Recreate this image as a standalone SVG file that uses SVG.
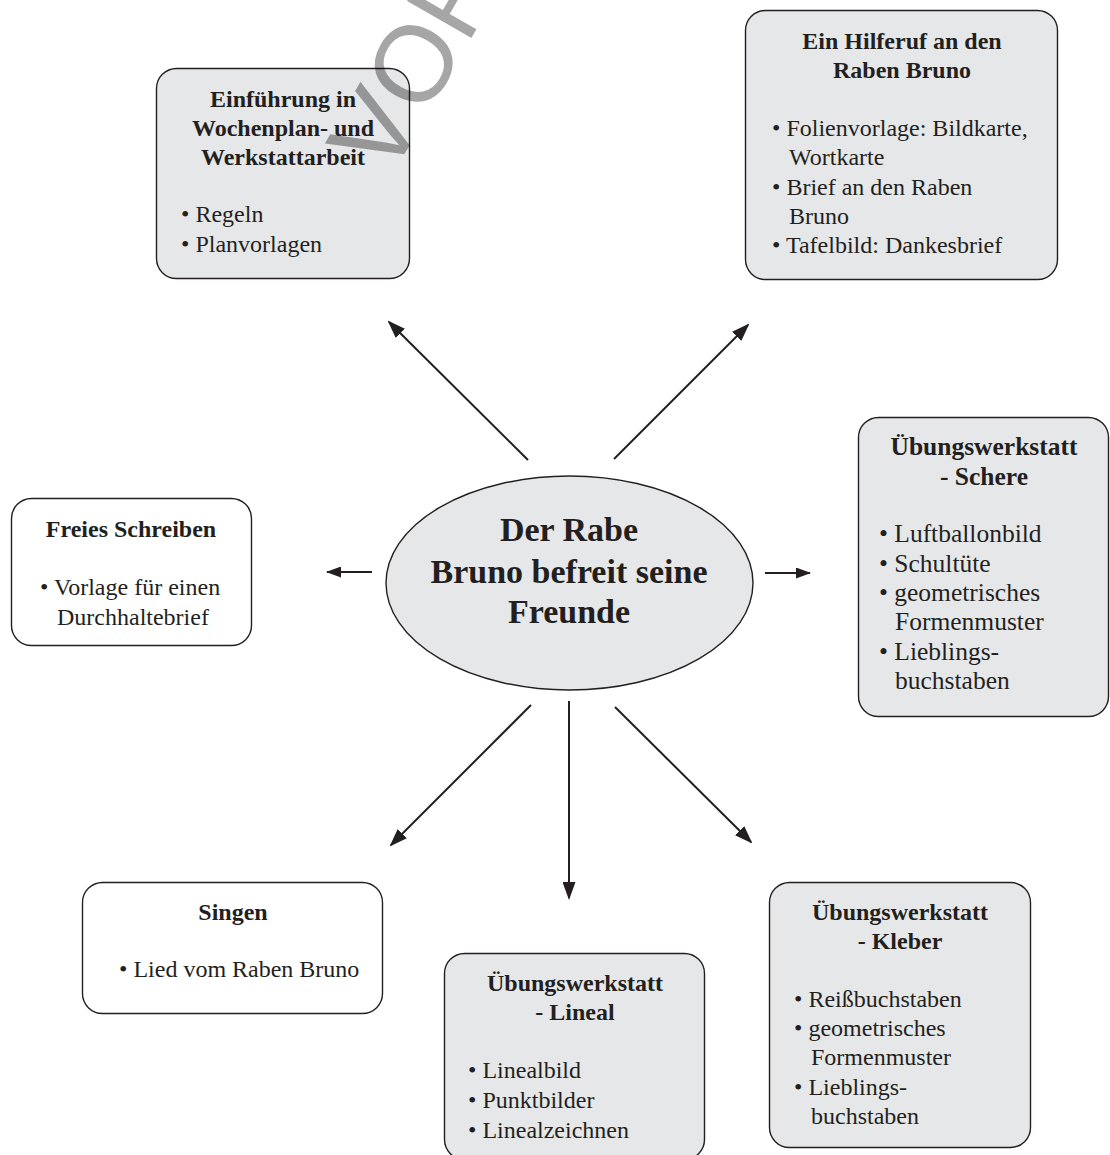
<svg xmlns="http://www.w3.org/2000/svg" width="1110" height="1155" viewBox="0 0 1110 1155">
<defs>
<style>
.box{stroke:#231f20;stroke-width:1.4}
.g{fill:#e6e7e8}
.w{fill:#ffffff}
.t{font-family:"Liberation Serif","Times New Roman",serif;font-weight:bold;font-size:24px;fill:#231f20;text-anchor:middle}
.b{font-family:"Liberation Serif","Times New Roman",serif;font-size:24px;fill:#231f20}
.s{font-size:25.5px}
.big{font-family:"Liberation Serif","Times New Roman",serif;font-weight:bold;font-size:34px;fill:#231f20;text-anchor:middle}
.c{stroke:#231f20;stroke-width:2;fill:none;marker-end:url(#ah)}
.cs{stroke:#231f20;stroke-width:2;fill:none;marker-end:url(#ahs)}
.wm{font-family:"Liberation Sans",Arial,sans-serif;font-size:108px;fill:#000000;fill-opacity:0.35}
</style>
<marker id="ah" viewBox="0 0 18 13" refX="16" refY="6.5" markerWidth="18" markerHeight="13" markerUnits="userSpaceOnUse" orient="auto"><path d="M0,0 L18,6.5 L0,13 z" fill="#231f20"/></marker>
<marker id="ahs" viewBox="0 0 15 11" refX="14" refY="5.5" markerWidth="15" markerHeight="11" markerUnits="userSpaceOnUse" orient="auto"><path d="M0,0 L15,5.5 L0,11 z" fill="#231f20"/></marker>
</defs>
<rect width="1110" height="1155" fill="#ffffff"/>

<g id="connectors">
<line class="c" x1="528" y1="460" x2="389" y2="322"/>
<line class="c" x1="614" y1="459" x2="748" y2="325"/>
<line class="cs" x1="372" y1="572" x2="327" y2="572"/>
<line class="cs" x1="765" y1="573" x2="810" y2="573"/>
<line class="c" x1="531" y1="705" x2="391" y2="845"/>
<line class="c" x1="569" y1="701" x2="569" y2="898"/>
<line class="c" x1="615" y1="707" x2="751" y2="842"/>
</g>

<g id="center">
<ellipse class="box g" cx="569.5" cy="583" rx="183.5" ry="107"/>
<text class="big" x="569" y="541">Der Rabe</text>
<text class="big" x="569" y="583">Bruno befreit seine</text>
<text class="big" x="569" y="623">Freunde</text>
</g>

<g id="einfuehrung">
<rect class="box g" x="156.5" y="68.5" width="253" height="210" rx="20"/>
<text class="t" x="283" y="107">Einführung in</text>
<text class="t" x="283" y="136">Wochenplan- und</text>
<text class="t" x="283" y="165">Werkstattarbeit</text>
<text class="b" x="181" y="222">• Regeln</text>
<text class="b" x="181" y="252">• Planvorlagen</text>
</g>

<g id="hilferuf">
<rect class="box g" x="745.5" y="10.5" width="312" height="269" rx="20"/>
<text class="t" x="902" y="49">Ein Hilferuf an den</text>
<text class="t" x="902" y="78">Raben Bruno</text>
<text class="b" x="772" y="136">• Folienvorlage: Bildkarte,</text>
<text class="b" x="789" y="165">Wortkarte</text>
<text class="b" x="772" y="195">• Brief an den Raben</text>
<text class="b" x="789" y="224">Bruno</text>
<text class="b" x="772" y="253">• Tafelbild: Dankesbrief</text>
</g>

<g id="freies">
<rect class="box w" x="11.5" y="498.5" width="240" height="147" rx="20"/>
<text class="t" x="131" y="537">Freies Schreiben</text>
<text class="b" x="40" y="595">• Vorlage für einen</text>
<text class="b" x="57" y="625">Durchhaltebrief</text>
</g>

<g id="schere">
<rect class="box g" x="858.5" y="417.5" width="250" height="299" rx="20"/>
<text class="t s" x="984" y="455">Übungswerkstatt</text>
<text class="t s" x="984" y="485">- Schere</text>
<text class="b s" x="879" y="542">• Luftballonbild</text>
<text class="b s" x="879" y="572">• Schultüte</text>
<text class="b s" x="879" y="601">• geometrisches</text>
<text class="b s" x="895" y="630">Formenmuster</text>
<text class="b s" x="879" y="660">• Lieblings-</text>
<text class="b s" x="895" y="689">buchstaben</text>
</g>

<g id="singen">
<rect class="box w" x="82.5" y="882.5" width="300" height="131" rx="20"/>
<text class="t" x="233" y="920">Singen</text>
<text class="b" x="119" y="977">• Lied vom Raben Bruno</text>
</g>

<g id="lineal">
<rect class="box g" x="444.5" y="953.5" width="260" height="206" rx="20"/>
<text class="t" x="575" y="991">Übungswerkstatt</text>
<text class="t" x="575" y="1020">- Lineal</text>
<text class="b" x="468" y="1078">• Linealbild</text>
<text class="b" x="468" y="1108">• Punktbilder</text>
<text class="b" x="468" y="1138">• Linealzeichnen</text>
</g>

<g id="kleber">
<rect class="box g" x="769.5" y="882.5" width="261" height="265" rx="20"/>
<text class="t" x="900" y="920">Übungswerkstatt</text>
<text class="t" x="900" y="949">- Kleber</text>
<text class="b" x="794" y="1007">• Reißbuchstaben</text>
<text class="b" x="794" y="1036">• geometrisches</text>
<text class="b" x="811" y="1065">Formenmuster</text>
<text class="b" x="794" y="1095">• Lieblings-</text>
<text class="b" x="811" y="1124">buchstaben</text>
</g>

<text class="wm" transform="translate(389,181) rotate(-60)">VORSCHAU</text>
</svg>
